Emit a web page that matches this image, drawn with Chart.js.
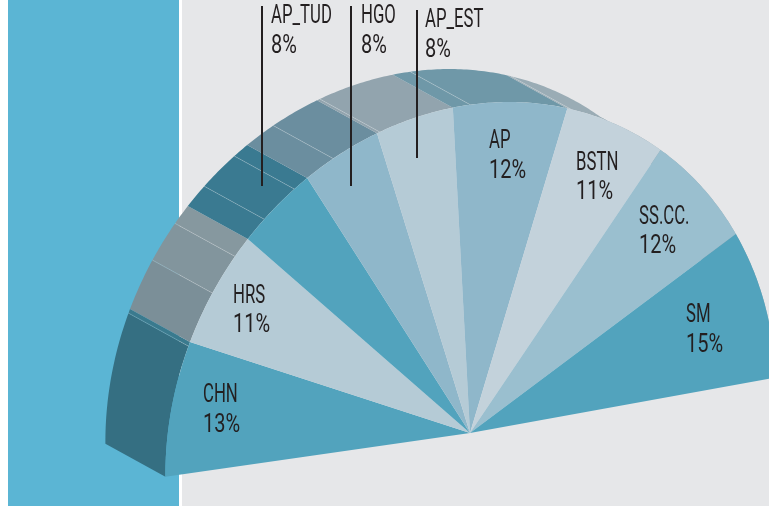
<!DOCTYPE html>
<html><head><meta charset="utf-8">
<script src="https://cdn.jsdelivr.net/npm/chart.js@4"></script>
<style>
html,body{margin:0;padding:0;background:#fff;width:769px;height:508px;overflow:hidden}
#gray{position:absolute;left:182px;top:0;width:587px;height:506px;background:#e6e7e9}
#blue{position:absolute;left:8px;top:0;width:171px;height:506px;background:#5bb5d4}
canvas{position:absolute;left:0;top:0}
</style></head><body>
<div id="gray"></div><div id="blue"></div>
<canvas id="c" width="769" height="508"></canvas>
<script>
const categories=["CHN","HRS","AP_TUD","HGO","AP_EST","AP","BSTN","SS.CC.","SM"];
const shares=[13,11,8,8,8,12,11,12,15];
const faceColors=["#52a3bd","#b5cbd6","#52a3bd","#8fb7ca","#b5cbd6","#8fb7ca","#c3d2db","#9abfcf","#52a3bd"];
const wallShares=[12.6,0.4,5,4,2,2.4,4,1.6,3.1,4.9,0.3,7.7,1.8,10.2,0.4,10.6,12,15];
const wallColors=["#356f82","#3a7a8e","#7b8f98","#82959d","#86989f","#3a7a91","#3a7a91","#3a7a91","#6b8e9f","#6b8e9f","#92a4ae","#92a4ae","#6f98a8","#6f98a8","#9aacb5","#9aacb5","#9aacb5","#9aacb5"];
const wallSeams=[0,1,0,1,1,0,1,1,0,1,0,1,0,1,0,1,0,0];
const S=178;
// perspective of the tilted half disc, and the depth of its wall
const A=305.32,B=2.15,C=-43.94,D=327.97,G=-0.00235,H=-0.00018;
const CX=470,CY=433,DX=-60,DY=-33;
function proj(an){const ux=Math.cos(an),uy=Math.sin(an),w=1+G*ux+H*uy;return [CX+(A*ux+B*uy)/w,CY+(C*ux+D*uy)/w];}
function arcPts(a0,a1){const n=Math.max(2,Math.ceil((a1-a0)/0.01)),o=[];for(let i=0;i<=n;i++)o.push(proj(a0+(a1-a0)*i/n));return o;}
const warp={id:'warp',beforeDatasetDraw(chart,args){
 const ctx=chart.ctx,isWall=args.index===1;
 args.meta.data.forEach((arc,i)=>{
  const r=arcPts(arc.startAngle,arc.endAngle);
  ctx.beginPath();
  if(isWall){r.forEach((p,k)=>k?ctx.lineTo(p[0],p[1]):ctx.moveTo(p[0],p[1]));r.slice().reverse().forEach(p=>ctx.lineTo(p[0]+DX,p[1]+DY));}
  else{ctx.moveTo(CX,CY);r.forEach(p=>ctx.lineTo(p[0],p[1]));}
  ctx.closePath();ctx.fillStyle=arc.options.backgroundColor;ctx.fill();
  if(isWall&&wallSeams[i]){ctx.beginPath();ctx.moveTo(r[0][0],r[0][1]);ctx.lineTo(r[0][0]+DX,r[0][1]+DY);ctx.strokeStyle="rgba(255,255,255,.35)";ctx.lineWidth=.6;ctx.stroke();}
 });
 return false;
},
afterDatasetsDraw(chart){
 const ctx=chart.ctx;
 ctx.strokeStyle="#231f20";ctx.lineWidth=2;
 [[262,6,186],[351,6,186],[417,10,158]].forEach(l=>{ctx.beginPath();ctx.moveTo(l[0],l[1]);ctx.lineTo(l[0],l[2]);ctx.stroke();});
 const pos=[[203,402,432],[233,303,332],[271,23,53],[361,23,53],[425,27,57],[489,148,178],[576,170,199],[639,224,253],[686,322,352]];
 ctx.fillStyle="#231f20";ctx.font='25px Roboto';ctx.textBaseline="alphabetic";
 categories.forEach((t,i)=>{[[t,pos[i][1],.67],[shares[i]+"%",pos[i][2],.8]].forEach(([s,y,k])=>{ctx.save();ctx.translate(pos[i][0],y);ctx.scale(k,1);ctx.fillText(s,0,0);ctx.restore();});});
}};
new Chart(document.getElementById('c'),{type:'pie',plugins:[warp],
 data:{labels:categories,datasets:[{data:shares,backgroundColor:faceColors},{data:wallShares,backgroundColor:wallColors}]},
 options:{responsive:false,animation:false,rotation:-90,circumference:S,events:[],plugins:{legend:{display:false},tooltip:{enabled:false}}}});
</script></body></html>
